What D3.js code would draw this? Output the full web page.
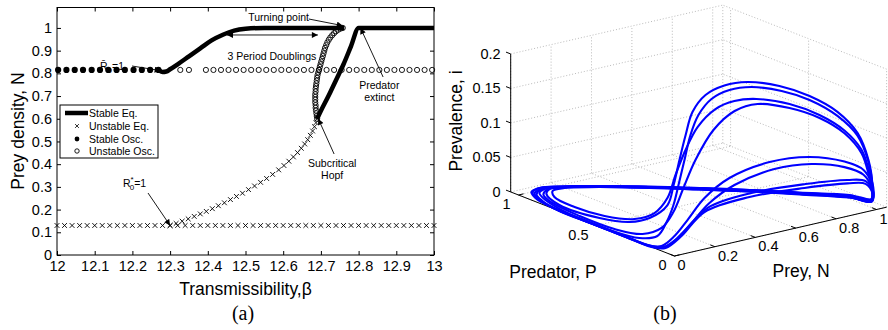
<!DOCTYPE html>
<html>
<head>
<meta charset="utf-8">
<script src="https://cdn.jsdelivr.net/npm/d3@7"></script>
<style>
  body { margin: 0; background: #fff; }
  svg { font-family: "Liberation Sans", Arial, Helvetica, sans-serif; }
</style>
</head>
<body>
<script>
// ---------- panel (a): bifurcation diagram ----------
const xTicks = [12, 12.1, 12.2, 12.3, 12.4, 12.5, 12.6, 12.7, 12.8, 12.9, 13];
const yTicks = [0, 0.1, 0.2, 0.3, 0.4, 0.5, 0.6, 0.7, 0.8, 0.9, 1];

const oscLevel = 0.815;
const unstableEqLevel = 0.13;

const stableOscX = [12.003, 12.025, 12.047, 12.069, 12.092, 12.114, 12.136, 12.158,
  12.18, 12.203, 12.225, 12.247, 12.269];

const unstableOscX = [12.327, 12.35, 12.395, 12.415, 12.435, 12.455, 12.475, 12.495,
  12.515, 12.535, 12.555, 12.575, 12.595, 12.615, 12.635, 12.655, 12.675, 12.695,
  12.715, 12.735, 12.755, 12.775, 12.795, 12.815, 12.835, 12.855, 12.875, 12.895,
  12.915, 12.935, 12.955, 12.975, 12.995];

const unstableEqX = [12.0, 12.02, 12.04, 12.06, 12.08, 12.1, 12.12, 12.14, 12.16, 12.18,
  12.2, 12.22, 12.24, 12.26, 12.28, 12.3, 12.32, 12.34, 12.36, 12.38, 12.4, 12.42,
  12.44, 12.46, 12.48, 12.5, 12.52, 12.54, 12.56, 12.58, 12.6, 12.62, 12.64, 12.66,
  12.68, 12.7, 12.72, 12.74, 12.76, 12.78, 12.8, 12.82, 12.84, 12.86, 12.88, 12.9,
  12.92, 12.94, 12.96, 12.98, 13.0];

// unstable equilibrium branch from R0*=1 to the subcritical Hopf point
const unstableEqCurve = [
  [12.3, 0.13], [12.316, 0.139], [12.332, 0.149], [12.348, 0.159], [12.364, 0.17],
  [12.38, 0.181], [12.396, 0.192], [12.412, 0.204], [12.428, 0.217], [12.444, 0.23],
  [12.46, 0.244], [12.476, 0.258], [12.492, 0.272], [12.508, 0.288], [12.524, 0.304],
  [12.54, 0.32], [12.556, 0.337], [12.572, 0.355], [12.588, 0.375], [12.602, 0.394],
  [12.615, 0.413], [12.627, 0.432], [12.638, 0.451], [12.648, 0.47], [12.657, 0.489],
  [12.665, 0.508], [12.672, 0.527], [12.678, 0.546], [12.683, 0.565], [12.687, 0.583],
  [12.69, 0.6]];

// unstable oscillation branch from the Hopf point to the turning point
const unstableOscCurve = [
  [12.69, 0.6], [12.689, 0.612], [12.688, 0.624], [12.687, 0.636], [12.686, 0.648],
  [12.686, 0.66], [12.685, 0.672], [12.685, 0.684], [12.685, 0.696], [12.685, 0.708],
  [12.686, 0.72], [12.686, 0.732], [12.687, 0.744], [12.688, 0.756], [12.689, 0.768],
  [12.69, 0.78], [12.691, 0.792], [12.693, 0.804], [12.695, 0.816], [12.697, 0.828],
  [12.699, 0.84], [12.701, 0.852], [12.703, 0.864], [12.705, 0.876], [12.707, 0.888],
  [12.709, 0.9], [12.711, 0.912], [12.714, 0.924], [12.717, 0.936], [12.721, 0.948],
  [12.725, 0.958], [12.73, 0.968], [12.735, 0.977], [12.74, 0.985], [12.746, 0.992],
  [12.752, 0.997], [12.758, 1.0]];

const stableEqUpper = [[12.272, 0.812], [12.28, 0.806], [12.29, 0.808], [12.3, 0.818],
  [12.32, 0.84], [12.35, 0.875], [12.38, 0.91], [12.41, 0.945], [12.44, 0.97],
  [12.47, 0.988], [12.5, 0.996], [12.55, 1.0], [12.65, 1.0], [12.762, 1.0]];

const stableEqLower = [[12.69, 0.6], [12.7, 0.635], [12.72, 0.7], [12.74, 0.77],
  [12.76, 0.84], [12.78, 0.92], [12.8, 1.0], [13.0, 1.0]];

// ---------- panel (b): 3D orbit (prey N, predator P, prevalence i) ----------
const preyTicks = [0, 0.2, 0.4, 0.6, 0.8, 1];
const predTicks = [0, 0.5, 1];
const prevTicks = [0, 0.05, 0.1, 0.15, 0.2];
const prevTickLabels = ["0", "0.05", "0.1", "0.15", "0.2"];

const orbitH1 = [[1.0,0.03,0.009],[0.992,0.163,0.005],[0.892,0.353,0],[0.756,0.498,0],
  [0.616,0.637,0],[0.472,0.771,0],[0.32,0.895,0],[0.207,0.973,0],[0.144,0.988,0],
  [0.095,0.944,0],[0.048,0.8,0],[0.069,0.57,0],[0.131,0.458,0],[0.225,0.451,0],
  [0.357,0.507,0.005],[0.398,0.521,0.03],[0.423,0.516,0.065],[0.449,0.51,0.1],
  [0.489,0.518,0.13],[0.566,0.534,0.148],[0.651,0.523,0.157],[0.734,0.483,0.16],
  [0.829,0.401,0.155],[0.904,0.305,0.144],[0.975,0.218,0.124],[0.99,0.109,0.102],
  [1.0,0.051,0.067],[1.0,0.026,0.033]];

const orbitH2 = [[1.0,0.03,0.011],[0.988,0.16,0.006],[0.892,0.353,0],[0.76,0.503,0],
  [0.62,0.642,0],[0.476,0.777,0],[0.324,0.9,0],[0.192,0.985,0],[0.129,1.0,0],
  [0.081,0.971,0],[0.044,0.884,0],[0.008,0.683,0],[0.005,0.423,0],[0.034,0.269,0],
  [0.106,0.247,0],[0.219,0.334,0.005],[0.293,0.386,0.02],[0.331,0.403,0.045],
  [0.356,0.397,0.08],[0.398,0.413,0.112],[0.456,0.437,0.135],[0.553,0.479,0.148],
  [0.653,0.493,0.153],[0.734,0.457,0.155],[0.824,0.38,0.15],[0.894,0.292,0.14],
  [0.975,0.218,0.118],[0.99,0.109,0.098],[1.0,0.051,0.064],[1.0,0.026,0.031]];

const orbitH3 = [[1.0,0.026,0.013],[0.988,0.157,0.008],[0.896,0.358,0],[0.76,0.503,0],
  [0.616,0.637,0],[0.472,0.771,0],[0.316,0.89,0],[0.199,0.963,0],[0.138,0.96,0],
  [0.096,0.894,0],[0.079,0.743,0],[0.101,0.579,0],[0.17,0.477,0],[0.28,0.491,0],
  [0.385,0.544,0.01],[0.429,0.549,0.04],[0.467,0.534,0.075],[0.539,0.55,0.102],
  [0.639,0.565,0.12],[0.718,0.546,0.128],[0.792,0.5,0.13],[0.882,0.405,0.125],
  [0.943,0.292,0.115],[0.985,0.186,0.099],[1.0,0.096,0.078],[1.0,0.045,0.05],
  [1.0,0.019,0.027]];

const orbitH4 = [[1.0,0.038,0.01],[0.987,0.156,0.006],[0.888,0.348,0],[0.756,0.498,0],
  [0.616,0.637,0],[0.472,0.771,0],[0.32,0.895,0],[0.194,0.975,0],[0.127,0.985,0],
  [0.078,0.941,0],[0.042,0.837,0],[0.023,0.638,0],[0.028,0.421,0],[0.076,0.303,0],
  [0.183,0.32,0],[0.281,0.371,0.012],[0.35,0.396,0.04],[0.418,0.407,0.075],
  [0.548,0.46,0.105],[0.683,0.499,0.12],[0.783,0.481,0.125],[0.872,0.392,0.121],
  [0.936,0.282,0.112],[0.985,0.186,0.095],[1.0,0.096,0.073],[1.0,0.051,0.047],
  [1.0,0.026,0.024]];

const orbitM1 = [[1.0,0.03,0.009],[0.988,0.158,0.005],[0.884,0.343,0],[0.752,0.493,0],
  [0.612,0.632,0],[0.468,0.766,0],[0.32,0.895,0],[0.196,0.99,0],[0.121,1.022,0],
  [0.064,1.0,0],[0.029,0.929,0],[0.007,0.798,0],[0.006,0.553,0],[0.004,0.325,0],
  [0.004,0.178,0],[0.039,0.134,0],[0.143,0.185,0.003],[0.272,0.269,0.01],
  [0.418,0.349,0.025],[0.584,0.404,0.038],[0.77,0.388,0.05],[0.902,0.303,0.056],
  [0.985,0.186,0.054],[1.0,0.083,0.05],[1.0,0.032,0.034]];

const orbitM2 = [[1.0,0.038,0.01],[0.984,0.152,0.005],[0.88,0.338,0],[0.748,0.487,0],
  [0.608,0.627,0],[0.464,0.761,0],[0.316,0.89,0],[0.198,0.98,0],[0.119,1.007,0],
  [0.062,0.977,0],[0.026,0.898,0],[0.004,0.768,0],[0.001,0.533,0],[0.0,0.312,0],
  [0.002,0.163,0],[0.037,0.119,0],[0.136,0.157,0.003],[0.261,0.229,0.01],
  [0.41,0.307,0.022],[0.571,0.355,0.033],[0.768,0.354,0.043],[0.896,0.282,0.048],
  [0.985,0.186,0.046],[1.0,0.083,0.043],[1.0,0.032,0.028]];

const orbitL1 = [[1.0,0.032,0.009],[0.984,0.152,0.005],[0.884,0.343,0],[0.748,0.487,0],
  [0.608,0.627,0],[0.468,0.766,0],[0.32,0.895,0],[0.196,0.99,0],[0.111,1.022,0],
  [0.06,0.987,0],[0.027,0.914,0],[0.005,0.783,0],[0.001,0.54,0],[0.0,0.3,0],
  [0.0,0.148,0],[0.036,0.104,0],[0.17,0.175,0.002],[0.411,0.34,0.006],
  [0.638,0.345,0.012],[0.848,0.265,0.018],[0.98,0.16,0.025],[1.0,0.07,0.031],
  [1.0,0.026,0.021]];

const orbitL2 = [[1.0,0.038,0.009],[0.988,0.158,0.005],[0.888,0.348,0],[0.752,0.493,0],
  [0.612,0.632,0],[0.472,0.771,0],[0.32,0.895,0],[0.195,0.983,0],[0.112,1.004,0],
  [0.06,0.962,0],[0.027,0.881,0],[0.0,0.738,0],[0.001,0.508,0],[0.0,0.282,0],
  [0.01,0.148,0],[0.058,0.12,0],[0.203,0.205,0.003],[0.442,0.36,0.008],
  [0.659,0.36,0.015],[0.861,0.275,0.022],[0.98,0.16,0.03],[1.0,0.07,0.035],
  [1.0,0.026,0.024]];

const orbits = [orbitL1, orbitL2, orbitM1, orbitM2, orbitH4, orbitH3, orbitH2, orbitH1];

// ================================================================
const svg = d3.select("body").append("svg")
  .attr("width", 888)
  .attr("height", 330);

svg.append("defs").append("marker")
  .attr("id", "arrow")
  .attr("viewBox", "0 0 10 10")
  .attr("refX", 10)
  .attr("refY", 5)
  .attr("markerWidth", 7)
  .attr("markerHeight", 6)
  .attr("markerUnits", "userSpaceOnUse")
  .attr("orient", "auto-start-reverse")
  .append("path")
  .attr("d", "M0,0L10,5L0,10z")
  .attr("fill", "#000");

// ---------- panel (a) ----------
const x = d3.scaleLinear().domain([12, 13]).range([57, 434]);
const y = d3.scaleLinear().domain([0, 1.09]).range([255, 7.5]);

const a = svg.append("g");

const styleTicks = (g) => {
  g.select(".domain").remove();
  g.selectAll("line").attr("stroke", "#000");
  g.selectAll("text").style("font-size", "14.5px").attr("fill", "#000");
};

a.append("g")
  .attr("transform", `translate(0,${y(0)})`)
  .call(d3.axisBottom(x).tickValues(xTicks).tickFormat(d3.format(""))
    .tickSizeInner(-4).tickSizeOuter(0).tickPadding(6))
  .call(styleTicks);

a.append("g")
  .attr("transform", `translate(0,${y(1.09)})`)
  .call(d3.axisTop(x).tickValues(xTicks).tickFormat("")
    .tickSizeInner(-4).tickSizeOuter(0))
  .call(styleTicks);

a.append("g")
  .attr("transform", `translate(${x(12)},0)`)
  .call(d3.axisLeft(y).tickValues(yTicks).tickFormat(d3.format(""))
    .tickSizeInner(-4).tickSizeOuter(0).tickPadding(5))
  .call(styleTicks);

a.append("g")
  .attr("transform", `translate(${x(13)},0)`)
  .call(d3.axisRight(y).tickValues(yTicks).tickFormat("")
    .tickSizeInner(-4).tickSizeOuter(0))
  .call(styleTicks);

a.append("rect")
  .attr("x", x(12)).attr("y", y(1.09))
  .attr("width", x(13) - x(12)).attr("height", y(0) - y(1.09))
  .attr("fill", "none").attr("stroke", "#000").attr("stroke-width", 1);

const crossPath = "M-2.4,-2.4L2.4,2.4M-2.4,2.4L2.4,-2.4";

// unstable equilibria (crosses)
a.append("g").selectAll("path")
  .data(unstableEqX.map((v) => [v, unstableEqLevel]).concat(unstableEqCurve))
  .join("path")
  .attr("d", crossPath)
  .attr("transform", (d) => `translate(${x(d[0])},${y(d[1])})`)
  .attr("stroke", "#000").attr("stroke-width", 0.9).attr("fill", "none");

// stable oscillations (filled dots)
a.append("g").selectAll("circle")
  .data(stableOscX)
  .join("circle")
  .attr("cx", (d) => x(d)).attr("cy", y(oscLevel)).attr("r", 3.1)
  .attr("fill", "#000");

// unstable oscillations (open circles)
a.append("g").selectAll("circle")
  .data(unstableOscX.map((v) => [v, oscLevel]).concat(unstableOscCurve))
  .join("circle")
  .attr("cx", (d) => x(d[0])).attr("cy", (d) => y(d[1])).attr("r", 2.6)
  .attr("fill", "none").attr("stroke", "#000").attr("stroke-width", 0.9);

// stable equilibria (thick line)
const eqLine = d3.line().x((d) => x(d[0])).y((d) => y(d[1])).curve(d3.curveMonotoneX);
[stableEqUpper, stableEqLower].forEach((branch) => {
  a.append("path")
    .datum(branch)
    .attr("d", eqLine)
    .attr("fill", "none").attr("stroke", "#000")
    .attr("stroke-width", 4.5).attr("stroke-linejoin", "round");
});

// annotations
const note = (px, py, txt, anchor = "start") =>
  a.append("text").attr("x", px).attr("y", py)
    .attr("text-anchor", anchor).style("font-size", "10.5px").text(txt);

const arrow = (x1, y1, x2, y2, both = false) => {
  const l = a.append("line")
    .attr("x1", x1).attr("y1", y1).attr("x2", x2).attr("y2", y2)
    .attr("stroke", "#000").attr("stroke-width", 0.9)
    .attr("marker-end", "url(#arrow)");
  if (both) l.attr("marker-start", "url(#arrow)");
};

note(x(12.507), 21, "Turning point");
arrow(x(12.668), 19, x(12.758), y(1.01));

arrow(x(12.451), y(0.969), x(12.692), y(0.969), true);
note(x(12.57), 60, "3 Period Doublings", "middle");

// R-bar_0 = 1
const rb = a.append("text").attr("x", 100).attr("y", 70).style("font-size", "10.5px");
rb.append("tspan").text("R\u0304");
rb.append("tspan").attr("dy", 3).style("font-size", "8px").text("0");
rb.append("tspan").attr("dy", -3).text("=1");
arrow(132, 66, x(12.275), y(0.812));

// R*_0 = 1
const rs = a.append("text").attr("x", 123).attr("y", 187).style("font-size", "10.5px");
rs.append("tspan").text("R");
rs.append("tspan").attr("dy", -5).style("font-size", "8px").text("*");
rs.append("tspan").attr("dx", -4).attr("dy", 8).style("font-size", "8px").text("0");
rs.append("tspan").attr("dy", -3).text("=1");
arrow(148, 193, x(12.3), y(0.13));

note(x(12.73), 167, "Subcritical", "middle");
note(x(12.73), 179, "Hopf", "middle");
arrow(x(12.735), 154, x(12.693), y(0.6));

note(x(12.855), 89, "Predator", "middle");
note(x(12.855), 101, "extinct", "middle");
arrow(x(12.865), 77, x(12.805), y(1.0));

// legend
const lg = a.append("g");
lg.append("rect").attr("x", 60).attr("y", 105).attr("width", 98).attr("height", 53)
  .attr("fill", "#fff").attr("stroke", "#000").attr("stroke-width", 1);
lg.append("line").attr("x1", 65).attr("x2", 88).attr("y1", 113).attr("y2", 113)
  .attr("stroke", "#000").attr("stroke-width", 4.5);
lg.append("path").attr("d", crossPath).attr("transform", "translate(77,126) scale(0.8)")
  .attr("stroke", "#000").attr("stroke-width", 1);
lg.append("circle").attr("cx", 77).attr("cy", 139).attr("r", 2.4).attr("fill", "#000");
lg.append("circle").attr("cx", 77).attr("cy", 151).attr("r", 2.2)
  .attr("fill", "none").attr("stroke", "#000").attr("stroke-width", 0.9);
["Stable Eq.", "Unstable Eq.", "Stable Osc.", "Unstable Osc."].forEach((t, k) => {
  lg.append("text").attr("x", 89).attr("y", [117, 130, 143, 155][k])
    .style("font-size", "10.5px").text(t);
});

// axis titles
a.append("text").attr("x", x(12.5)).attr("y", 295).attr("text-anchor", "middle")
  .style("font-size", "17.5px").text("Transmissibility,\u03b2");
a.append("text").attr("transform", "translate(18,131) rotate(-90)")
  .attr("text-anchor", "middle").attr("dominant-baseline", "central")
  .style("font-size", "17.5px").text("Prey density, N");
a.append("text").attr("x", 243).attr("y", 320).attr("text-anchor", "middle")
  .style("font-family", "'Liberation Serif', 'Times New Roman', serif")
  .style("font-size", "20px").text("(a)");

// ---------- panel (b) ----------
const b = svg.append("g");
const nMax = 1.05, pMax = 1.05, iMax = 0.2;
const origin = { x: 674.5, y: 256 };
const nX = d3.scaleLinear().domain([0, 1]).range([0, 202]);
const nY = d3.scaleLinear().domain([0, 1]).range([0, -46.5]);
const pX = d3.scaleLinear().domain([0, 1]).range([0, -156]);
const pY = d3.scaleLinear().domain([0, 1]).range([0, -61]);
const iY = d3.scaleLinear().domain([0, iMax]).range([0, -138]);
const proj = ([n, p, i]) => [origin.x + nX(n) + pX(p), origin.y + nY(n) + pY(p) + iY(i)];

const seg = (p1, p2) => [proj(p1), proj(p2)];
const gridLines = [];
// back wall at P = pMax
preyTicks.forEach((n) => gridLines.push(seg([n, pMax, 0], [n, pMax, iMax])));
prevTicks.forEach((i) => gridLines.push(seg([0, pMax, i], [nMax, pMax, i])));
gridLines.push(seg([nMax, pMax, 0], [nMax, pMax, iMax]));
// back wall at N = nMax
predTicks.forEach((p) => gridLines.push(seg([nMax, p, 0], [nMax, p, iMax])));
prevTicks.forEach((i) => gridLines.push(seg([nMax, 0, i], [nMax, pMax, i])));
// floor
preyTicks.forEach((n) => gridLines.push(seg([n, 0, 0], [n, pMax, 0])));
predTicks.forEach((p) => gridLines.push(seg([0, p, 0], [nMax, p, 0])));

b.append("g").selectAll("path")
  .data(gridLines)
  .join("path")
  .attr("d", d3.line())
  .attr("fill", "none").attr("stroke", "#a8a8a8")
  .attr("stroke-width", 0.8).attr("stroke-dasharray", "1,2");

// axis lines
const axisSegs = [
  seg([0, pMax, 0], [0, pMax, iMax]),
  seg([0, 0, 0], [0, pMax, 0]),
  seg([0, 0, 0], [nMax, 0, 0])
];
prevTicks.forEach((i) => axisSegs.push(seg([0, pMax, i], [0, pMax + 0.03, i])));
predTicks.forEach((p) => axisSegs.push(seg([0, p, 0], [0.025, p, 0])));
preyTicks.forEach((n) => axisSegs.push(seg([n, 0, 0], [n, 0.03, 0])));
b.append("g").selectAll("path")
  .data(axisSegs)
  .join("path")
  .attr("d", d3.line())
  .attr("fill", "none").attr("stroke", "#000").attr("stroke-width", 1);

// tick labels
prevTicks.forEach((i, k) => {
  const [px, py] = proj([0, pMax, i]);
  b.append("text").attr("x", px - 10).attr("y", py + 5).attr("text-anchor", "end")
    .style("font-size", "14.5px").text(prevTickLabels[k]);
});
predTicks.forEach((p) => {
  const [px, py] = proj([0, p, 0]);
  b.append("text").attr("x", px - 8).attr("y", py + 14).attr("text-anchor", "end")
    .style("font-size", "14.5px").text(d3.format("")(p));
});
preyTicks.forEach((n) => {
  const [px, py] = proj([n, 0, 0]);
  b.append("text").attr("x", px + 3).attr("y", py + 14).attr("text-anchor", "start")
    .style("font-size", "14.5px").text(d3.format("")(n));
});

// orbit
const orbitLine = d3.line().curve(d3.curveCatmullRomClosed.alpha(0.5));
b.append("g").selectAll("path")
  .data(orbits)
  .join("path")
  .attr("d", (d) => orbitLine(d.map(proj)))
  .attr("fill", "none").attr("stroke", "#0000ff")
  .attr("stroke-width", 2.1).attr("stroke-linejoin", "round");

// axis titles
b.append("text").attr("transform", "translate(456,121) rotate(-90)")
  .attr("text-anchor", "middle").attr("dominant-baseline", "central")
  .style("font-size", "17.5px").text("Prevalence, i");
b.append("text").attr("x", 553).attr("y", 278).attr("text-anchor", "middle")
  .style("font-size", "17.5px").text("Predator, P");
b.append("text").attr("x", 801).attr("y", 277).attr("text-anchor", "middle")
  .style("font-size", "17.5px").text("Prey, N");
b.append("text").attr("x", 665).attr("y", 320).attr("text-anchor", "middle")
  .style("font-family", "'Liberation Serif', 'Times New Roman', serif")
  .style("font-size", "20px").text("(b)");
</script>
</body>
</html>
